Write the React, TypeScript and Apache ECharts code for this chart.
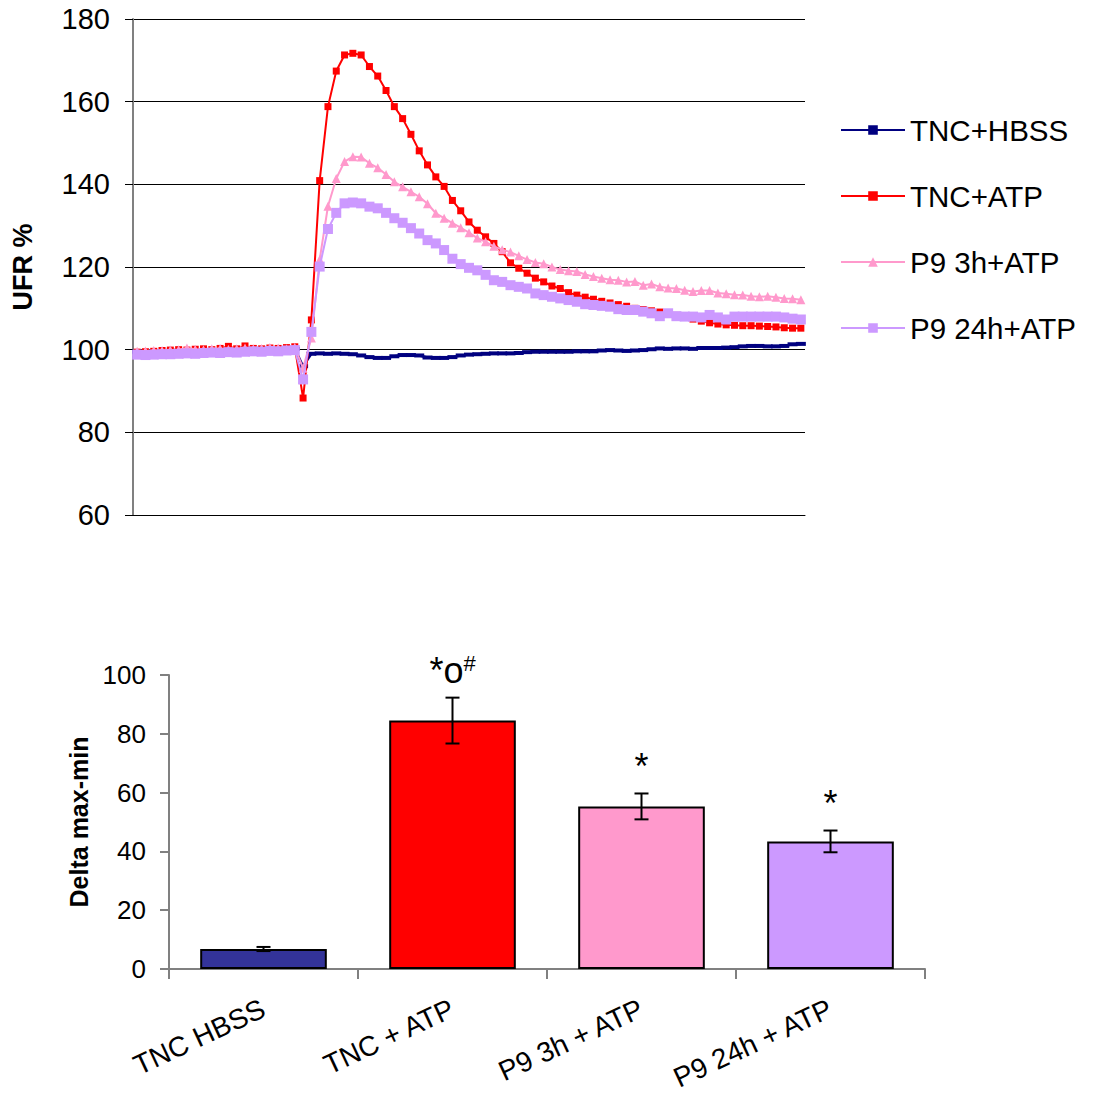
import React, { useEffect, useRef } from "react";
import * as echarts from "echarts";

// ---- Time course: UFR % per sample ----
const seriesNames = ["TNC+HBSS", "TNC+ATP", "P9 3h+ATP", "P9 24h+ATP"];
const seriesColors = ["#000080", "#FF0000", "#FF99CC", "#CC99FF"];

const tncHbss = [
  99.5, 99.5, 99.6, 99.6, 99.7, 99.7, 99.8, 99.8, 99.8, 99.9,
  99.9, 99.9, 100.0, 100.0, 100.0, 100.1, 100.1, 100.1, 100.2, 100.2,
  96.0, 99.0, 99.1, 99.0, 99.1, 99.0, 98.9, 98.6, 98.2, 98.0,
  98.0, 98.4, 98.7, 98.7, 98.6, 98.1, 98.0, 98.0, 98.2, 98.6,
  98.8, 98.9, 99.0, 99.1, 99.1, 99.1, 99.2, 99.4, 99.5, 99.5,
  99.5, 99.5, 99.5, 99.6, 99.6, 99.6, 99.8, 99.9, 99.8, 99.7,
  99.8, 99.9, 100.1, 100.3, 100.2, 100.3, 100.3, 100.2, 100.4, 100.4,
  100.4, 100.5, 100.6, 100.8, 100.9, 100.9, 100.8, 100.8, 100.9, 101.3,
  101.4,
];

const tncAtp = [
  99.4, 99.5, 99.6, 99.8, 99.9, 100.0, 99.9, 100.1, 100.2, 100.0,
  100.3, 100.8, 100.2, 100.9, 100.3, 100.2, 100.4, 100.3, 100.5, 100.7,
  88.3, 107.2, 140.9, 158.8, 167.4, 171.3, 171.7, 171.3, 168.5, 166.2,
  162.7, 158.8, 155.9, 152.1, 148.1, 144.7, 141.8, 139.5, 136.1, 133.6,
  130.9, 128.9, 127.3, 125.7, 123.7, 121.0, 119.7, 118.5, 117.3, 116.4,
  115.4, 114.8, 113.8, 113.2, 112.7, 112.2, 111.7, 111.3, 110.9, 110.5,
  110.0, 109.7, 109.4, 109.1, 108.7, 108.3, 107.9, 107.4, 106.9, 106.5,
  106.2, 106.0, 105.9, 105.8, 105.8, 105.7, 105.6, 105.5, 105.3, 105.2,
  105.2,
];

const p9h3Atp = [
  99.6, 99.7, 99.8, 99.8, 99.9, 100.0, 100.4, 100.1, 100.0, 100.2,
  100.3, 100.1, 100.2, 100.4, 100.2, 100.3, 100.5, 100.4, 100.2, 100.6,
  95.5, 102.8, 121.8, 134.7, 141.4, 145.5, 146.7, 146.6, 145.1, 144.0,
  142.4, 140.6, 139.4, 138.2, 137.0, 135.3, 133.0, 131.8, 130.6, 129.5,
  128.3, 127.0, 126.1, 125.0, 124.2, 123.6, 122.7, 121.8, 121.1, 120.8,
  120.0, 119.4, 119.1, 118.9, 118.2, 117.7, 117.3, 116.9, 116.8, 116.4,
  116.5, 115.6, 115.9, 115.2, 114.9, 114.8, 114.4, 114.1, 114.3, 114.3,
  113.7, 113.5, 113.3, 113.2, 112.9, 112.8, 112.9, 112.7, 112.4, 112.3,
  112.1,
];

const p9h24Atp = [
  98.8, 98.7, 98.8, 98.9, 98.9, 99.0, 99.1, 99.0, 99.2, 99.3,
  99.2, 99.4, 99.3, 99.5, 99.6, 99.5, 99.7, 99.6, 99.8, 99.9,
  92.8, 104.3, 120.1, 129.2, 133.1, 135.4, 135.6, 135.4, 134.6, 134.2,
  133.1, 131.8, 130.7, 129.4, 128.1, 126.5, 125.7, 124.1, 122.0, 120.7,
  119.8, 119.2, 118.1, 116.8, 116.4, 115.6, 115.2, 114.8, 113.6, 113.2,
  112.8, 112.4, 112.0, 111.6, 111.0, 110.8, 110.6, 110.4, 109.8, 109.6,
  109.6, 109.2, 108.8, 108.1, 108.8, 108.1, 108.0, 108.0, 107.8, 108.4,
  107.8, 107.3, 108.0, 108.0, 108.0, 108.0, 108.0, 108.0, 107.8, 107.5,
  107.3,
];

const sampleIndex = tncAtp.map((_, i) => String(i + 1));
const ufrTicks = [60, 80, 100, 120, 140, 160, 180];

// ---- Summary: delta max-min per group ----
const groups = ["TNC HBSS", "TNC + ATP", "P9 3h + ATP", "P9 24h + ATP"];
const deltaMean = [6.8, 84.5, 55.3, 43.4];
const deltaErr = [0.7, 7.8, 4.4, 3.7];
const barColors = ["#333399", "#FF0000", "#FF99CC", "#CC99FF"];
const significance = ["", "*o#", "*", "*"];

const FONT = "'Liberation Sans', Arial, Helvetica, sans-serif";

export default function App() {
  const ref = useRef<HTMLDivElement>(null);

  useEffect(() => {
    if (!ref.current) return;
    const chart = echarts.init(ref.current, undefined, { renderer: "svg" });

    const lineData = [tncHbss, tncAtp, p9h3Atp, p9h24Atp];
    const symbols = ["rect", "rect", "triangle", "rect"];
    const symbolSizes: any[] = [[10, 4], 7, 9, 10];
    const lineWidths = [2.5, 2, 2, 2];

    const lineSeries = lineData.map((d, i) => ({
      name: seriesNames[i],
      type: "line",
      xAxisIndex: 0,
      yAxisIndex: 0,
      data: d,
      symbol: symbols[i],
      symbolSize: symbolSizes[i],
      showSymbol: true,
      showAllSymbol: true,
      lineStyle: { color: seriesColors[i], width: lineWidths[i] },
      itemStyle: { color: seriesColors[i] },
      emphasis: { disabled: true },
      z: 2 + i,
    }));

    const option: any = {
      animation: false,
      backgroundColor: "#ffffff",
      textStyle: { fontFamily: FONT },
      legend: {
        orient: "vertical",
        left: 835,
        top: 110,
        itemWidth: 64,
        itemHeight: 12,
        itemGap: 36,
        selectedMode: false,
        data: seriesNames,
        textStyle: { fontSize: 29.5, color: "#000", fontFamily: FONT },
      },
      grid: [
        { left: 133, top: 19, width: 672, height: 496, containLabel: false, outerBoundsMode: "none" },
        { left: 169, top: 675, width: 756, height: 294, containLabel: false, outerBoundsMode: "none" },
      ],
      xAxis: [
        {
          type: "category",
          gridIndex: 0,
          data: sampleIndex,
          boundaryGap: true,
          axisLine: { show: true, lineStyle: { color: "#000", width: 1 } },
          axisTick: { show: false },
          axisLabel: { show: false },
          splitLine: { show: false },
        },
        {
          type: "category",
          gridIndex: 1,
          data: groups,
          boundaryGap: true,
          axisLine: { show: true, lineStyle: { color: "#808080", width: 2 } },
          axisTick: { show: true, length: 10, lineStyle: { color: "#808080", width: 2 } },
          axisLabel: {
            interval: 0,
            rotate: 25,
            margin: 38,
            fontSize: 28,
            color: "#000",
            fontFamily: FONT,
          },
        },
      ],
      yAxis: [
        {
          type: "value",
          gridIndex: 0,
          min: ufrTicks[0],
          max: ufrTicks[ufrTicks.length - 1],
          interval: 20,
          name: "UFR %",
          nameLocation: "middle",
          nameGap: 97,
          nameTextStyle: { fontSize: 27, fontWeight: "bold", color: "#000", fontFamily: FONT },
          axisLine: { show: true, lineStyle: { color: "#808080", width: 2 } },
          axisTick: { show: true, length: 8, lineStyle: { color: "#000", width: 1 } },
          axisLabel: { fontSize: 29, color: "#000", margin: 23, fontFamily: FONT },
          splitLine: { show: true, lineStyle: { color: "#000", width: 1 } },
        },
        {
          type: "value",
          gridIndex: 1,
          min: 0,
          max: 100,
          interval: 20,
          name: "Delta max-min",
          nameLocation: "middle",
          nameGap: 76,
          nameTextStyle: { fontSize: 25, fontWeight: "bold", color: "#000", fontFamily: FONT },
          axisLine: { show: true, lineStyle: { color: "#808080", width: 2 } },
          axisTick: { show: true, length: 9, lineStyle: { color: "#808080", width: 2 } },
          axisLabel: { fontSize: 26, color: "#000", margin: 23, fontFamily: FONT },
          splitLine: { show: false },
        },
      ],
      series: [
        ...lineSeries,
        {
          type: "bar",
          xAxisIndex: 1,
          yAxisIndex: 1,
          barWidth: "67%",
          data: deltaMean.map((v, i) => ({
            value: v,
            itemStyle: { color: barColors[i], borderColor: "#000", borderWidth: 2 },
          })),
          emphasis: { disabled: true },
          z: 2,
        },
        {
          type: "custom",
          xAxisIndex: 1,
          yAxisIndex: 1,
          data: deltaMean.map((v, i) => [i, v, deltaErr[i]]),
          encode: { x: 0, y: 1 },
          z: 5,
          renderItem: (params: any, api: any) => {
            const idx = api.value(0);
            const mean = api.value(1);
            const err = api.value(2);
            const top = api.coord([idx, mean + err]);
            const bot = api.coord([idx, mean - err]);
            const cap = 7;
            const stroke = { stroke: "#000", lineWidth: 2 };
            const mark = significance[params.dataIndex];
            const children: any[] = [
              { type: "line", shape: { x1: top[0], y1: top[1], x2: bot[0], y2: bot[1] }, style: stroke },
              { type: "line", shape: { x1: top[0] - cap, y1: top[1], x2: top[0] + cap, y2: top[1] }, style: stroke },
              { type: "line", shape: { x1: bot[0] - cap, y1: bot[1], x2: bot[0] + cap, y2: bot[1] }, style: stroke },
            ];
            if (mark) {
              const main = mark.replace("#", "");
              const sup = mark.includes("#") ? "#" : "";
              children.push({
                type: "text",
                x: top[0],
                y: top[1] - 9,
                style: {
                  text: sup ? `{m|${main}}{s|${sup}}` : `{m|${main}}`,
                  align: "center",
                  verticalAlign: "bottom",
                  rich: {
                    m: { fontSize: 36, fontFamily: FONT, fill: "#000", verticalAlign: "bottom" },
                    s: { fontSize: 22, fontFamily: FONT, fill: "#000", verticalAlign: "top" },
                  },
                },
              });
            }
            return { type: "group", children };
          },
        },
      ],
    };

    chart.setOption(option);
    return () => chart.dispose();
  }, []);

  return (
    <div
      ref={ref}
      style={{ position: "absolute", left: 0, top: 0, width: 1093, height: 1097, background: "#fff" }}
    />
  );
}
